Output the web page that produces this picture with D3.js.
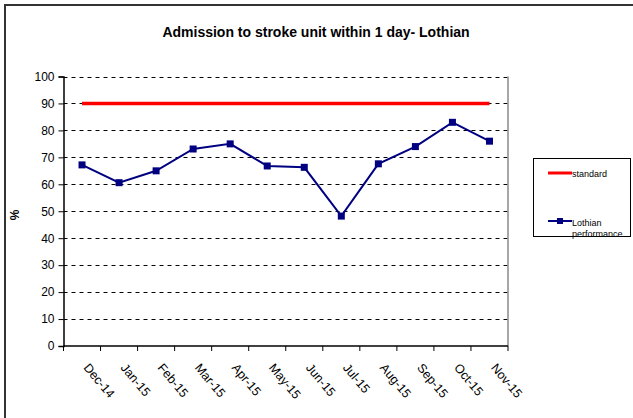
<!DOCTYPE html>
<html><head><meta charset="utf-8">
<script src="https://cdn.jsdelivr.net/npm/d3@7"></script>
<style>body{margin:0;background:#fff;}svg{display:block;font-family:"Liberation Sans",Arial,sans-serif;}</style>
</head><body>
<svg id="c" width="633" height="418"></svg>
<script>
const categories = ["Dec-14","Jan-15","Feb-15","Mar-15","Apr-15","May-15","Jun-15","Jul-15","Aug-15","Sep-15","Oct-15","Nov-15"];
const performance = [67.2, 60.6, 65.0, 73.1, 75.0, 66.8, 66.3, 48.2, 67.6, 74.0, 83.0, 76.0];
const standard = [90,90,90,90,90,90,90,90,90,90,90,90];
const yTicks = [0,10,20,30,40,50,60,70,80,90,100];

const svg = d3.select("#c");
const L = 63.5, R = 508, T = 76.5, B = 346;
const x = d3.scaleBand().domain(categories).range([L, R]);
const y = d3.scaleLinear().domain([0, 100]).range([B, T]);
const cx = d => x(d) + x.bandwidth()/2;

// outer frame
svg.append("line").attr("x1",4).attr("x2",633).attr("y1",5).attr("y2",5).attr("stroke","#333").attr("stroke-width",2);
svg.append("line").attr("x1",5).attr("x2",5).attr("y1",5).attr("y2",418).attr("stroke","#333").attr("stroke-width",2);

// title
svg.append("text").attr("x",316).attr("y",37).attr("text-anchor","middle")
  .attr("font-size",14).attr("font-weight","bold").text("Admission to stroke unit within 1 day- Lothian");

// gridlines
svg.append("g").selectAll("line").data(yTicks.filter(d=>d>0)).join("line")
  .attr("x1",L).attr("x2",R).attr("y1",d=>Math.round(y(d))+0.5).attr("y2",d=>Math.round(y(d))+0.5)
  .attr("stroke","#000").attr("stroke-width",1).attr("stroke-dasharray","4,4");

// right border
svg.append("line").attr("x1",R).attr("x2",R).attr("y1",T).attr("y2",B).attr("stroke","#888").attr("stroke-width",1.5);

// y axis
const yAxis = d3.axisLeft(y).tickValues(yTicks).tickSize(5).tickPadding(4);
const gy = svg.append("g").attr("transform",`translate(${L},0)`).call(yAxis);
gy.select(".domain").attr("stroke","#000").attr("stroke-width",1.5);
gy.selectAll(".tick line").attr("stroke","#000");
gy.selectAll("text").attr("font-size",12).attr("font-family","Liberation Sans, Arial, sans-serif").attr("fill","#000");

// x axis with ticks at boundaries
const gx = svg.append("g").attr("transform",`translate(0,${B})`);
gx.append("line").attr("x1",L).attr("x2",R).attr("y1",0).attr("y2",0).attr("stroke","#000").attr("stroke-width",1.5);
const bounds = categories.map(c => x(c)).concat([R]);
gx.selectAll("line.tk").data(bounds).join("line").attr("class","tk")
  .attr("x1",d=>d).attr("x2",d=>d).attr("y1",0).attr("y2",5).attr("stroke","#000");
gx.selectAll("text").data(categories).join("text")
  .attr("transform",d=>`translate(${cx(d)+1},${22}) rotate(50)`)
  .attr("text-anchor","start").attr("font-size",12.5).attr("fill","#000").text(d=>d);

// y title
svg.append("text").attr("transform","translate(19,215) rotate(-90)").attr("text-anchor","middle")
  .attr("font-size",12).attr("font-weight","bold").text("%");

// standard line
const line = d3.line().x((d,i)=>cx(categories[i])).y(d=>y(d));
svg.append("path").datum(standard).attr("d",line).attr("fill","none").attr("stroke","#ff0000").attr("stroke-width",3.5);

// performance
svg.append("path").datum(performance).attr("d",line).attr("fill","none").attr("stroke","#000080").attr("stroke-width",2);
svg.append("g").selectAll("rect").data(performance).join("rect")
  .attr("x",(d,i)=>cx(categories[i])-3.5).attr("y",d=>y(d)-3.5).attr("width",7).attr("height",7).attr("fill","#000080");

// legend
const lg = svg.append("g");
lg.append("rect").attr("x",533.5).attr("y",158.5).attr("width",97).attr("height",78).attr("fill","#fff").attr("stroke","#000").attr("stroke-width",1);
lg.append("line").attr("x1",548).attr("x2",572).attr("y1",173).attr("y2",173).attr("stroke","#ff0000").attr("stroke-width",3);
lg.append("text").attr("x",572).attr("y",177).attr("font-size",9).text("standard");
lg.append("line").attr("x1",548).attr("x2",572).attr("y1",221).attr("y2",221).attr("stroke","#000080").attr("stroke-width",2);
lg.append("rect").attr("x",557).attr("y",218).attr("width",6).attr("height",6).attr("fill","#000080");
lg.append("text").attr("x",572).attr("y",226).attr("font-size",9).text("Lothian");
lg.append("text").attr("x",572).attr("y",237).attr("font-size",9).text("performance");
</script>
</body></html>
